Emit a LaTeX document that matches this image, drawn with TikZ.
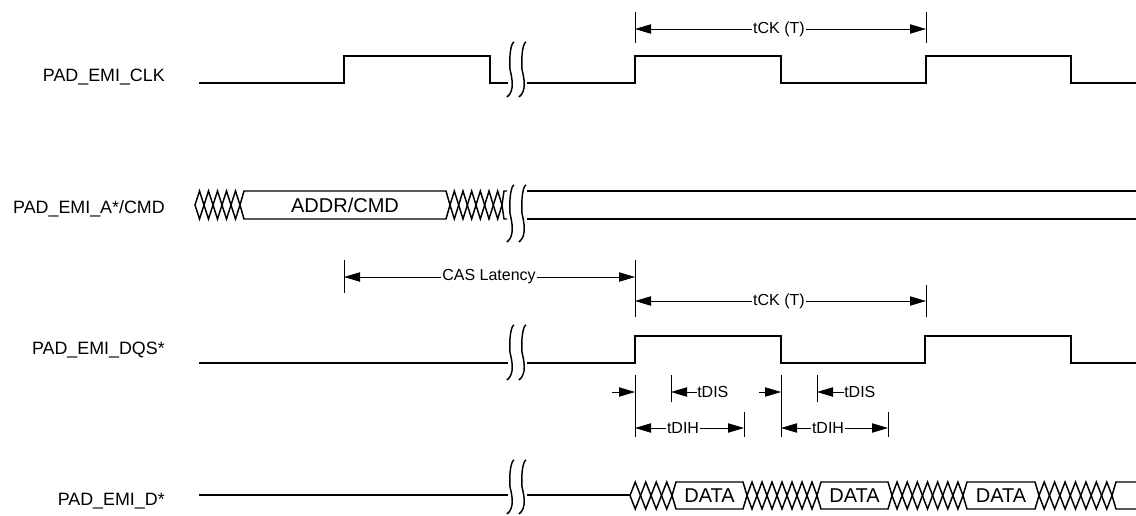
\documentclass[tikz,border=0pt]{standalone}
\usepackage{fontspec}
\setmainfont{Liberation Sans}
\usetikzlibrary{arrows.meta,positioning}
\tikzset{
  sig/.style={line width=1.4pt,line join=miter},
  hatchline/.style={line width=1.1pt},
  brkline/.style={line width=1.1pt},
  tick/.style={line width=0.6pt},
  dimarr/.style={{Triangle[length=12pt,width=7pt]}-{Triangle[length=12pt,width=7pt]},
                 line width=0.6pt},
  onearr/.style={-{Triangle[length=12pt,width=7pt]},line width=0.6pt},
  siglabel/.style={anchor=east,inner sep=0pt,font=\fontsize{13.4}{15}\selectfont},
  buslabel/.style={inner sep=0pt,font=\fontsize{15}{17}\selectfont},
  dimlabel/.style={fill=white,inner sep=1pt,font=\fontsize{12}{14}\selectfont}
}
% crossed (don't care) region: #1 from, #2 to, #3 count, #4 top, #5 bottom
\newcommand{\hatchx}[5]{%
  \pgfmathsetmacro\hw{(#2-#1)/#3}
  \foreach \k in {1,...,#3}{
    \draw[hatchline] ({#1+(\k-1)*\hw},{(#4+#5)/2}) -- ({#1+(\k-0.5)*\hw},#4)
      -- ({#1+\k*\hw},{(#4+#5)/2}) -- ({#1+(\k-0.5)*\hw},#5) -- cycle;
  }}
% valid bus window: #1 name, #2 from, #3 to, #4 top, #5 bottom, #6 text
\newcommand{\busbox}[6]{%
  \draw[hatchline] (#2,{(#4+#5)/2}) -- (#2+4,#4) -- (#3-4,#4) -- (#3,{(#4+#5)/2})
    -- (#3-4,#5) -- (#2+4,#5) -- cycle;
  \node[buslabel] (#1) at ({(#2+#3)/2},{(#4+#5)/2}) {#6};}
% break mark: #1 x, #2 top, #3 bottom
\newcommand{\brkmark}[3]{%
  \draw[brkline] (#1+3,#2) .. controls (#1,#2+1) and (#1-2,{#2+0.25*(#3-#2)})
    .. (#1-1,{(#2+#3)/2}) .. controls (#1+1,{#3-0.35*(#3-#2)}) and (#1+4,#3-6) .. (#1-4,#3);}

\begin{document}
\begin{tikzpicture}[x=0.75pt,y=-0.75pt]
  \useasboundingbox (0,0) rectangle (1136,515);

  % signal names
  \node[siglabel] (lclk) at (165,77) {PAD\_EMI\_CLK};
  \node[siglabel] (lacmd) at (165,209) {PAD\_EMI\_A*/CMD};
  \node[siglabel] (ldqs) at (165,350) {PAD\_EMI\_DQS*};
  \node[siglabel] (ldata) at (165,501) {PAD\_EMI\_D*};

  % clock
  \draw[sig] (199,83) -- (344,83) -- (344,56) -- (490,56) -- (490,83) -- (508,83);
  \brkmark{511}{42}{97}
  \brkmark{523}{42}{97}
  \draw[sig] (527,83) -- (635,83) -- (635,56) -- (781,56) -- (781,83)
    -- (926,83) -- (926,56) -- (1071,56) -- (1071,83) -- (1136,83);

  \draw[tick] (635,12) -- (635,43);
  \draw[tick] (926,12) -- (926,43);
  \coordinate (ck1a) at (635,29);
  \coordinate (ck1b) at (926,29);
  \draw[dimarr] (ck1a) -- (ck1b);
  \node[dimlabel] (tck1) at (779,29) {tCK (T)};

  % address / command
  \hatchx{195}{240}{5}{191}{219}
  \busbox{addr}{240}{450}{191}{219}{ADDR/CMD}
  \hatchx{450}{502}{6}{191}{219}
  \draw[hatchline] (502,205) -- (504,191) -- (507,191);
  \draw[hatchline] (502,205) -- (504,219) -- (507,219);
  \brkmark{511}{185}{242}
  \brkmark{523}{185}{242}
  \draw[hatchline] (527,191) -- (1136,191);
  \draw[hatchline] (527,219) -- (1136,219);

  % CAS latency and second tCK
  \draw[tick] (344,260) -- (344,293);
  \draw[tick] (635,260) -- (635,317);
  \draw[tick] (926,285) -- (926,317);
  \coordinate (casa) at (344,277);
  \coordinate (casb) at (635,277);
  \draw[dimarr] (casa) -- (casb);
  \node[dimlabel] (cas) at (489,277) {CAS Latency};
  \coordinate (ck2a) at (635,301);
  \coordinate (ck2b) at (926,301);
  \draw[dimarr] (ck2a) -- (ck2b);
  \node[dimlabel] (tck2) at (779,301) {tCK (T)};

  % strobe
  \draw[sig] (199,363) -- (508,363);
  \brkmark{511}{325}{380}
  \brkmark{523}{325}{380}
  \draw[sig] (527,363) -- (635,363) -- (635,336) -- (781,336) -- (781,363)
    -- (925,363) -- (925,336) -- (1071,336) -- (1071,363) -- (1136,363);

  % setup / hold
  \draw[tick] (635,375) -- (635,437);
  \draw[tick] (781,375) -- (781,437);
  \draw[tick] (671,375) -- (671,402);
  \draw[tick] (817,375) -- (817,402);
  \draw[tick] (744,412) -- (744,437);
  \draw[tick] (888,412) -- (888,437);

  \coordinate (s1a) at (612,392);
  \coordinate (s1b) at (635,392);
  \draw[onearr] (s1a) -- (s1b);
  \coordinate (s2a) at (759,392);
  \coordinate (s2b) at (781,392);
  \draw[onearr] (s2a) -- (s2b);
  \node[dimlabel,inner sep=0pt,anchor=west] (tdis1) at (697,392) {tDIS};
  \coordinate (d1) at (671,392);
  \draw[onearr] (tdis1.west) -- (d1);
  \node[dimlabel,inner sep=0pt,anchor=west] (tdis2) at (844,392) {tDIS};
  \coordinate (d2) at (817,392);
  \draw[onearr] (tdis2.west) -- (d2);

  \coordinate (h1a) at (635,428);
  \coordinate (h1b) at (744,428);
  \draw[dimarr] (h1a) -- (h1b);
  \node[dimlabel] (tdih1) at (683,428) {tDIH};
  \coordinate (h2a) at (781,428);
  \coordinate (h2b) at (888,428);
  \draw[dimarr] (h2a) -- (h2b);
  \node[dimlabel] (tdih2) at (828,428) {tDIH};

  % data
  \draw[sig] (199,495) -- (508,495);
  \brkmark{511}{460}{514}
  \brkmark{523}{460}{514}
  \draw[hatchline] (527,495) -- (630,495);
  \hatchx{630}{672}{4}{482}{509}
  \busbox{data1}{672}{747}{482}{509}{DATA}
  \hatchx{747}{817}{7}{482}{509}
  \busbox{data2}{817}{892}{482}{509}{DATA}
  \hatchx{892}{963}{7}{482}{509}
  \busbox{data3}{963}{1039}{482}{509}{DATA}
  \hatchx{1039}{1112}{7}{482}{509}
  \draw[hatchline] (1112,495.5) -- (1116,482) -- (1136,482);
  \draw[hatchline] (1112,495.5) -- (1116,509) -- (1136,509);
\end{tikzpicture}
\end{document}
